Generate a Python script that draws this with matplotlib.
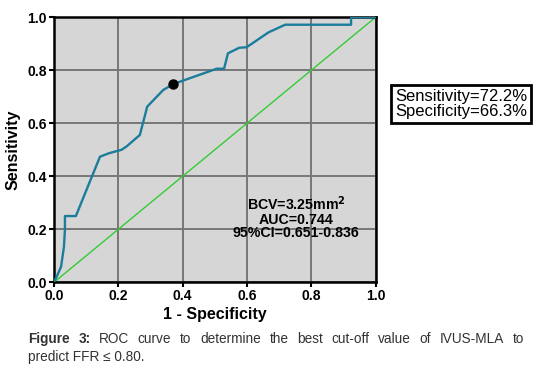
import matplotlib
matplotlib.use("Agg")
import matplotlib.pyplot as plt

# ROC curve data (1 - specificity, sensitivity)
fpr = [0.0, 0.013, 0.022, 0.031, 0.034, 0.034, 0.068, 0.143, 0.171, 0.21, 0.226,
       0.267, 0.29, 0.34, 0.371, 0.506, 0.529, 0.541, 0.576, 0.599, 0.667, 0.719,
       0.924, 0.924, 1.0]
tpr = [0.0, 0.034, 0.059, 0.134, 0.2, 0.25, 0.25, 0.474, 0.487, 0.50, 0.513,
       0.556, 0.663, 0.726, 0.748, 0.806, 0.806, 0.864, 0.885, 0.887, 0.943, 0.972,
       0.972, 1.0, 1.0]
cut_point = (0.371, 0.748)
ticks = [0.0, 0.2, 0.4, 0.6, 0.8, 1.0]
tick_labels = ["0.0", "0.2", "0.4", "0.6", "0.8", "1.0"]
stats_text = "BCV=3.25mm$^\\mathbf{2}$\nAUC=0.744\n95%CI=0.651-0.836"
box_text = "Sensitivity=72.2%\nSpecificity=66.3%"
caption_bold = "Figure 3:"
caption_line1 = "ROC curve to determine the best cut-off value of IVUS-MLA to"
caption_line2 = "predict FFR \u2264 0.80."

plt.rcParams['font.family'] = ['Liberation Sans', 'DejaVu Sans']
fig = plt.figure(figsize=(5.37, 3.78), dpi=100)
ax = fig.add_axes([54/537, 1-282.3/378, 321.5/537, 265/378])
ax.set_facecolor('#d6d6d6')
ax.set_xlim(0, 1)
ax.set_ylim(0, 1)
ax.grid(True, color='#777777', linewidth=1.4)
ax.set_axisbelow(True)
ax.plot([0, 1], [0, 1], color='#33cc33', linewidth=1.0, zorder=2)
ax.plot(fpr, tpr, color='#1b7c9b', linewidth=1.7, zorder=3)
ax.plot([cut_point[0]], [cut_point[1]], 'o', color='black', markersize=6.5, zorder=4)
for s in ax.spines.values():
    s.set_linewidth(1.8)
    s.set_color('black')
ax.set_xticks(ticks)
ax.set_yticks(ticks)
ax.set_xticklabels(tick_labels, fontweight='bold', fontsize=10)
ax.set_yticklabels(tick_labels, fontweight='bold', fontsize=10)
ax.tick_params(length=3.5, width=1.5, pad=1.5)
ax.set_xlabel("1 - Specificity", fontweight='bold', fontsize=11.5, labelpad=2.5)
ax.set_ylabel("Sensitivity", fontweight='bold', fontsize=11.5, labelpad=5)
ax.text(0.753, 0.245, stats_text, ha='center', va='center', fontweight='bold',
        fontsize=10.2, linespacing=0.95, zorder=5)

fig.text(461/537, 1-104/378, box_text, ha='center', va='center', fontsize=12,
         linespacing=1.0,
         bbox=dict(boxstyle='square,pad=0.22', facecolor='white', edgecolor='black', linewidth=2.0))

# caption, justified first line
fig.canvas.draw()
renderer = fig.canvas.get_renderer()
left_px, right_px = 28, 524
y1 = 1 - 339/378
y2 = 1 - 357/378
cap_color = '#333333'
words = [(caption_bold.split()[0], 'bold'), (caption_bold.split()[1], 'bold')] + \
        [(w, 'normal') for w in caption_line1.split()]
objs = []
widths = []
for w, wt in words:
    t = fig.text(0, y1, w, fontsize=9.8, fontweight=wt, color=cap_color, va='center')
    bb = t.get_window_extent(renderer)
    objs.append(t)
    widths.append(bb.width)
total = sum(widths)
gap = (right_px - left_px - total) / (len(words) - 1)
x = left_px
for t, wdt in zip(objs, widths):
    t.set_x(x/537)
    x += wdt + gap
fig.text(left_px/537, y2, caption_line2, fontsize=9.8, color=cap_color, va='center')

fig.savefig("out.png", dpi=100)
